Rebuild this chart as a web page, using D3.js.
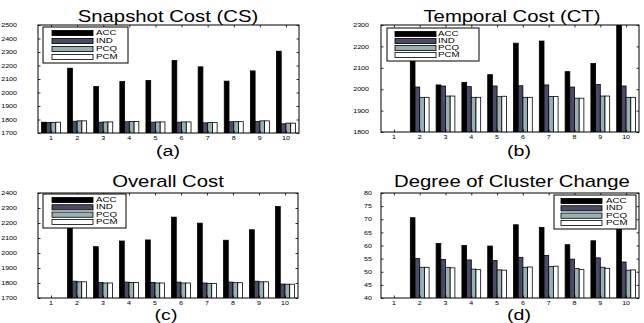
<!DOCTYPE html>
<html>
<head>
<meta charset="utf-8">
<script src="https://cdn.jsdelivr.net/npm/d3@7"></script>
<style>
  html, body { margin: 0; padding: 0; background: #fff; }
  svg { display: block; font-family: "Liberation Sans", Arial, Helvetica, sans-serif; }
</style>
</head>
<body>
<svg id="fig" width="644" height="323"></svg>
<script>
// ---- data -------------------------------------------------------------
const categories = [1, 2, 3, 4, 5, 6, 7, 8, 9, 10];
const seriesNames = ["ACC", "IND", "PCQ", "PCM"];

// Snapshot cost (CS)
const csACC = [1780, 2180, 2044, 2081, 2089, 2237, 2190, 2084, 2160, 2306];
const csIND = [1778, 1787, 1780, 1783, 1780, 1780, 1775, 1783, 1785, 1768];
const csPCQ = [1778, 1790, 1782, 1786, 1782, 1782, 1777, 1784, 1790, 1773];
const csPCM = [1780, 1790, 1782, 1786, 1782, 1782, 1777, 1784, 1790, 1773];

// Temporal cost (CT); no value at time step 1
const ctACC = [null, 2170, 2020, 2032, 2068, 2215, 2225, 2082, 2120, 2310];
const ctIND = [null, 2010, 2015, 2012, 2015, 2016, 2020, 2010, 2022, 2015];
const ctPCQ = [null, 1962, 1968, 1962, 1965, 1962, 1966, 1958, 1968, 1962];
const ctPCM = [null, 1962, 1968, 1962, 1967, 1962, 1966, 1958, 1968, 1962];

// Overall cost
const ocACC = [null, 2180, 2042, 2080, 2087, 2239, 2199, 2085, 2155, 2310];
const ocIND = [null, 1812, 1803, 1806, 1804, 1806, 1800, 1806, 1812, 1793];
const ocPCQ = [null, 1808, 1800, 1804, 1800, 1800, 1797, 1802, 1808, 1792];
const ocPCM = [null, 1808, 1800, 1804, 1800, 1800, 1797, 1802, 1808, 1792];

// Degree of cluster change
const dcACC = [null, 70.6, 60.8, 60.0, 59.8, 67.9, 66.9, 60.3, 61.8, 68.0];
const dcIND = [null, 55.0, 54.7, 54.5, 54.3, 55.5, 56.2, 54.8, 55.3, 53.7];
const dcPCQ = [null, 51.7, 51.7, 51.0, 50.7, 51.7, 52.0, 51.2, 51.7, 50.6];
const dcPCM = [null, 51.7, 51.5, 50.8, 50.6, 51.8, 52.1, 50.8, 51.3, 50.7];

const ticksCS = [1700, 1800, 1900, 2000, 2100, 2200, 2300, 2400, 2500];
const ticksCT = [1800, 1900, 2000, 2100, 2200, 2300];
const ticksOC = [1700, 1800, 1900, 2000, 2100, 2200, 2300, 2400];
const ticksDC = [40, 45, 50, 55, 60, 65, 70, 75, 80];

// ---- styling / layout --------------------------------------------------
const colors = ["#000000", "#4a4a6a", "#95b1b1", "#ffffff"]; // bone(4)
const SX = 1.27;            // horizontal stretch of the printed glyphs
const tickFont = 5.6, legendFont = 6.3, titleFont = 16, subFont = 14;

const panels = [
  { title: "Snapshot Cost (CS)", sub: "(a)", data: [csACC, csIND, csPCQ, csPCM], ticks: ticksCS,
    box: { x0: 38, x1: 299, y0: 25, y1: 133 }, labelGap: 21, titleX: 168, titleY: 21.5, subX: 168, subY: 155.5,
    legend: { x: 43, y: 27, w: 85, h: 36, sx: 52, sw: 41, tx: 96 } },
  { title: "Temporal Cost (CT)", sub: "(b)", data: [ctACC, ctIND, ctPCQ, ctPCM], ticks: ticksCT,
    box: { x0: 381, x1: 639, y0: 25, y1: 132 }, labelGap: 12, titleX: 512, titleY: 21.5, subX: 519, subY: 155.5,
    legend: { x: 387, y: 28, w: 92, h: 33, sx: 395, sw: 41, tx: 438 } },
  { title: "Overall Cost", sub: "(c)", data: [ocACC, ocIND, ocPCQ, ocPCM], ticks: ticksOC,
    box: { x0: 38, x1: 298, y0: 193, y1: 298 }, labelGap: 21, titleX: 168, titleY: 187, subX: 166, subY: 320,
    legend: { x: 43, y: 194, w: 83, h: 34, sx: 52, sw: 41, tx: 96 } },
  { title: "Degree of Cluster Change", sub: "(d)", data: [dcACC, dcIND, dcPCQ, dcPCM], ticks: ticksDC,
    box: { x0: 381, x1: 639, y0: 193, y1: 298 }, labelGap: 9, titleX: 512, titleY: 187, subX: 519, subY: 320,
    legend: { x: 554, y: 195, w: 82, h: 34, sx: 561, sw: 41, tx: 606 } }
];

const svg = d3.select("#fig");

// text with the horizontally stretched glyphs used throughout the figure
function label(g, x, y, str, size, anchor, baseline, sx) {
  return g.append("text")
    .attr("transform", `translate(${x},${y}) scale(${sx || SX},1)`)
    .attr("text-anchor", anchor || "middle")
    .attr("dominant-baseline", baseline || "alphabetic")
    .attr("font-size", size)
    .attr("fill", "#000")
    .text(str);
}

panels.forEach((p, pi) => {
  const b = p.box;
  const g = svg.append("g");
  const x = d3.scaleLinear().domain([0.5, 10.5]).range([b.x0, b.x1]);
  const y = d3.scaleLinear().domain(d3.extent(p.ticks)).range([b.y1, b.y0]);
  // series offsets inside each group, in category units
  const gw = 4 / 5.5;
  const sub = d3.scaleBand().domain(seriesNames).range([-gw / 2, gw / 2]).paddingInner(0);

  const clipId = "clip" + pi;
  g.append("clipPath").attr("id", clipId)
    .append("rect").attr("x", b.x0).attr("y", b.y0)
    .attr("width", b.x1 - b.x0).attr("height", b.y1 - b.y0);

  // bars
  const bars = g.append("g").attr("clip-path", `url(#${clipId})`);
  seriesNames.forEach((s, si) => {
    const vals = p.data[si];
    bars.selectAll(null)
      .data(categories.map((c, i) => ({ c, v: vals[i] })).filter(d => d.v != null && d.v > y.domain()[0]))
      .join("rect")
      .attr("x", d => x(d.c + sub(s)))
      .attr("width", d => x(d.c + sub(s) + sub.bandwidth()) - x(d.c + sub(s)))
      .attr("y", d => y(d.v))
      .attr("height", d => y(y.domain()[0]) - y(d.v) + 2)
      .attr("fill", colors[si])
      .attr("stroke", "#000")
      .attr("stroke-width", 0.8);
  });

  // axes: ticks point inward on all four sides
  const tl = 2.5;
  const axL = g.append("g").attr("transform", `translate(${b.x0},0)`)
    .call(d3.axisLeft(y).tickValues(p.ticks).tickSize(-tl).tickFormat(""));
  const axR = g.append("g").attr("transform", `translate(${b.x1},0)`)
    .call(d3.axisRight(y).tickValues(p.ticks).tickSize(-tl).tickFormat(""));
  const axB = g.append("g").attr("transform", `translate(0,${b.y1})`)
    .call(d3.axisBottom(x).tickValues(categories).tickSize(-tl).tickFormat(""));
  const axT = g.append("g").attr("transform", `translate(0,${b.y0})`)
    .call(d3.axisTop(x).tickValues(categories).tickSize(-tl).tickFormat(""));
  [axL, axR, axB, axT].forEach(a => {
    a.select(".domain").remove();
    a.selectAll("line").attr("stroke", "#000").attr("stroke-width", 0.8);
  });
  g.append("rect").attr("x", b.x0).attr("y", b.y0)
    .attr("width", b.x1 - b.x0).attr("height", b.y1 - b.y0)
    .attr("fill", "none").attr("stroke", "#000").attr("stroke-width", 1);

  // tick labels
  p.ticks.forEach(t => label(g, b.x0 - p.labelGap, y(t), t, tickFont, "end", "central"));
  categories.forEach(c => label(g, x(c), b.y1 + 7, c, tickFont, "middle"));

  // legend
  const L = p.legend;
  const lg = g.append("g");
  lg.append("rect").attr("x", L.x).attr("y", L.y).attr("width", L.w).attr("height", L.h)
    .attr("fill", "#fff").attr("stroke", "#000").attr("stroke-width", 1);
  const step = (L.h - 12) / 3;
  seriesNames.forEach((s, si) => {
    const cy = L.y + 6 + si * step;
    lg.append("rect").attr("x", L.sx).attr("y", cy - 2.6).attr("width", L.sw).attr("height", 5.2)
      .attr("fill", colors[si]).attr("stroke", "#000").attr("stroke-width", 0.8);
    label(lg, L.tx, cy, s, legendFont, "start", "central", 1.55);
  });

  // title and panel letter
  label(g, p.titleX, p.titleY, p.title, titleFont, "middle");
  label(g, p.subX, p.subY, p.sub, subFont, "middle", "alphabetic", 1.4);
});
</script>
</body>
</html>
